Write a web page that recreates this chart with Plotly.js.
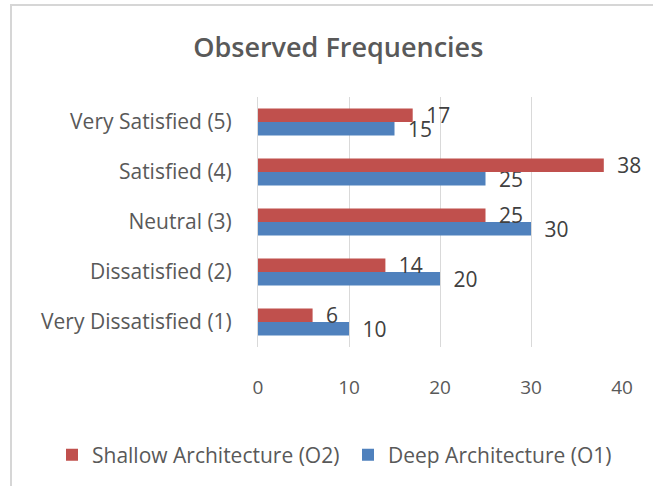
<!DOCTYPE html>
<html>
<head>
<meta charset="utf-8">
<script src="https://cdn.plot.ly/plotly-3.0.1.min.js"></script>
<style>
html,body{margin:0;padding:0;background:#fff;overflow:hidden;}
#frame{position:absolute;left:10px;top:4px;width:800px;height:700px;border-left:2px solid #d6d6d6;border-top:2px solid #d6d6d6;}
#chart{position:absolute;left:0;top:0;width:653px;height:486px;}
</style>
</head>
<body>
<div id="frame"></div>
<div id="chart"></div>
<script>
const categories = ["Very Dissatisfied (1)", "Dissatisfied (2)", "Neutral (3)", "Satisfied (4)", "Very Satisfied (5)"];
const deepO1 = [10, 20, 30, 25, 15];
const shallowO2 = [6, 14, 25, 38, 17];
const seriesNames = ["Deep Architecture (O1)", "Shallow Architecture (O2)"];
const xTicks = [0, 10, 20, 30, 40];

const font = "'Open Sans', sans-serif";
const grey = "#595959";

const mk = (vals, name, color, leg) => ({
  type: "bar", orientation: "h", y: categories, x: vals, name: name,
  marker: {color: color}, legend: leg,
  text: vals.map(v => "\u2009\u2009\u2009" + v),
  textposition: "outside", cliponaxis: false, constraintext: "none",
  textfont: {family: font, size: 21, color: "#404040"},
  hoverinfo: "none"
});

const data = [mk(deepO1, seriesNames[0], "#4F81BD", "legend2"), mk(shallowO2, seriesNames[1], "#C0504D", "legend")];

const legStyle = (x) => ({orientation: "h", xref: "container", yref: "container", x: x, xanchor: "left",
  y: 1 - 455 / 486, yanchor: "middle", font: {family: font, size: 21, color: grey},
  itemwidth: 30, bgcolor: "rgba(0,0,0,0)"});

const layout = {
  width: 653, height: 486,
  margin: {l: 258, r: 31, t: 97, b: 139},
  paper_bgcolor: "rgba(0,0,0,0)", plot_bgcolor: "rgba(0,0,0,0)",
  barmode: "group", bargap: 0.46, bargroupgap: 0,
  font: {family: font, color: grey},
  title: {text: "Observed Frequencies", x: 0.518, xanchor: "center", y: 0.903, yanchor: "middle",
          font: {family: font, size: 27, color: grey, weight: 600}},
  xaxis: {range: [0, 40], tickvals: xTicks, ticktext: xTicks.map(String),
          showgrid: true, gridcolor: "#d9d9d9", gridwidth: 1, zeroline: false,
          ticks: "outside", ticklen: 23, tickcolor: "rgba(0,0,0,0)",
          tickfont: {family: font, size: 19, color: grey}, fixedrange: true},
  yaxis: {type: "category", categoryorder: "array", categoryarray: categories,
          showline: true, linecolor: "#d9d9d9", linewidth: 1, showgrid: false,
          ticks: "outside", ticklen: 21, tickcolor: "rgba(0,0,0,0)",
          tickfont: {family: font, size: 21, color: grey}, fixedrange: true},
  showlegend: true,
  legend: legStyle(52 / 653),
  legend2: legStyle(348 / 653)
};

Plotly.newPlot("chart", data, layout, {displayModeBar: false, staticPlot: true});
</script>
</body>
</html>
